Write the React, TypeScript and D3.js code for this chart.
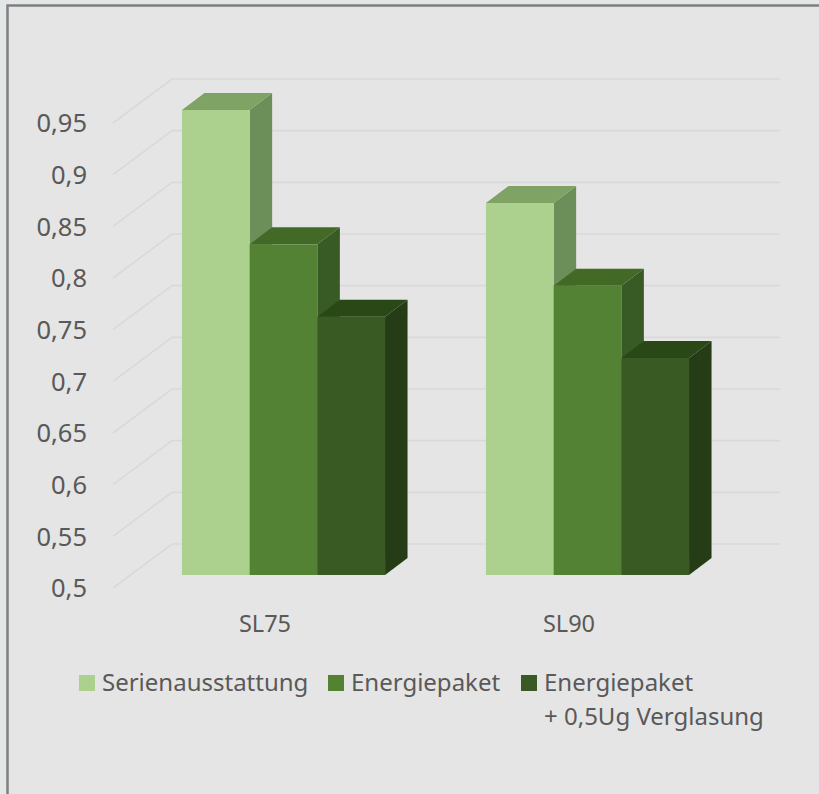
import * as d3 from "d3";

const categories = ["SL75", "SL90"];
const seriesNames = ["Serienausstattung", "Energiepaket", "Energiepaket + 0,5Ug Verglasung"];
const serienValues = [0.95, 0.86];
const energieValues = [0.82, 0.78];
const verglasungValues = [0.75, 0.71];
const yTicks = [0.5, 0.55, 0.6, 0.65, 0.7, 0.75, 0.8, 0.85, 0.9, 0.95];

const frontColors = ["#acd18e", "#548235", "#3a5a24"];
const topColors = ["#7ea365", "#436926", "#2a4716"];
const sideColors = ["#6c8f5a", "#385a24", "#263c16"];

const FONT = "'Noto Sans', sans-serif";
const TEXT = "#595959";

// front edge of the floor, the back wall sits behind it
const wallDx = 59;
const wallDy = -44;
// where the bars stand inside the depth of the floor
const barDx = 18.5;
const barDy = -13;
const depthDx = 22.5;
const depthDy = -17;

export default function App() {
  const y = d3.scaleLinear().domain([0.5, 0.95]).range([588, 123]);
  const x0 = d3
    .scaleBand<string>()
    .domain(categories)
    .range([113, 721])
    .paddingInner(0.332)
    .paddingOuter(0.166);
  const x1 = d3
    .scaleBand<string>()
    .domain(seriesNames)
    .range([0, x0.bandwidth()]);

  const seriesValues = [serienValues, energieValues, verglasungValues];
  const line = d3.line();

  const legendItems = [
    { x: 79, lines: ["Serienausstattung"] },
    { x: 328, lines: ["Energiepaket"] },
    { x: 521, lines: ["Energiepaket", "+ 0,5Ug Verglasung"] },
  ];

  return (
    <svg
      width={819}
      height={794}
      style={{ position: "absolute", left: 0, top: 0, background: "#e4e7e8" }}
      fontFamily={FONT}
    >
      <rect x={7.5} y={5.5} width={830} height={810} fill="#e5e5e5" stroke="#7f7f7f" strokeWidth={2.5} />

      <g fill="none" stroke="#d9d9d9" strokeWidth={1.6}>
        {yTicks.map((t) => (
          <path
            key={t}
            d={
              line([
                [113, y(t)],
                [113 + wallDx, y(t) + wallDy],
                [780, y(t) + wallDy],
              ]) as string
            }
          />
        ))}
      </g>

      <g textAnchor="end" fontSize={25.5} fill={TEXT}>
        {yTicks.map((t) => (
          <text key={t} x={87} y={y(t)} dy="0.36em">
            {String(t).replace(".", ",")}
          </text>
        ))}
      </g>

      {categories.map((cat, c) => (
        <g key={cat}>
          {seriesNames.map((name, s) => {
            const left = (x0(cat) as number) + (x1(name) as number) + barDx;
            const right = left + x1.bandwidth();
            const top = y(seriesValues[s][c]) + barDy;
            const bottom = y(0.5) + barDy;
            return (
              <g key={name}>
                <path
                  fill={sideColors[s]}
                  d={
                    (line([
                      [right, top],
                      [right + depthDx, top + depthDy],
                      [right + depthDx, bottom + depthDy],
                      [right, bottom],
                    ]) as string) + "Z"
                  }
                />
                <path
                  fill={topColors[s]}
                  d={
                    (line([
                      [left, top],
                      [left + depthDx, top + depthDy],
                      [right + depthDx, top + depthDy],
                      [right, top],
                    ]) as string) + "Z"
                  }
                />
                <rect x={left} y={top} width={x1.bandwidth()} height={bottom - top} fill={frontColors[s]} />
              </g>
            );
          })}
          <text
            x={(x0(cat) as number) + x0.bandwidth() / 2}
            y={632}
            textAnchor="middle"
            fontSize={23.5}
            fill={TEXT}
          >
            {cat}
          </text>
        </g>
      ))}

      {legendItems.map((item, i) => (
        <g key={i}>
          <rect x={item.x} y={675} width={16} height={16} fill={frontColors[i]} />
          {item.lines.map((l, j) => (
            <text key={l} x={item.x + 23} y={691 + j * 34} fontSize={24} fill={TEXT}>
              {l}
            </text>
          ))}
        </g>
      ))}
    </svg>
  );
}
